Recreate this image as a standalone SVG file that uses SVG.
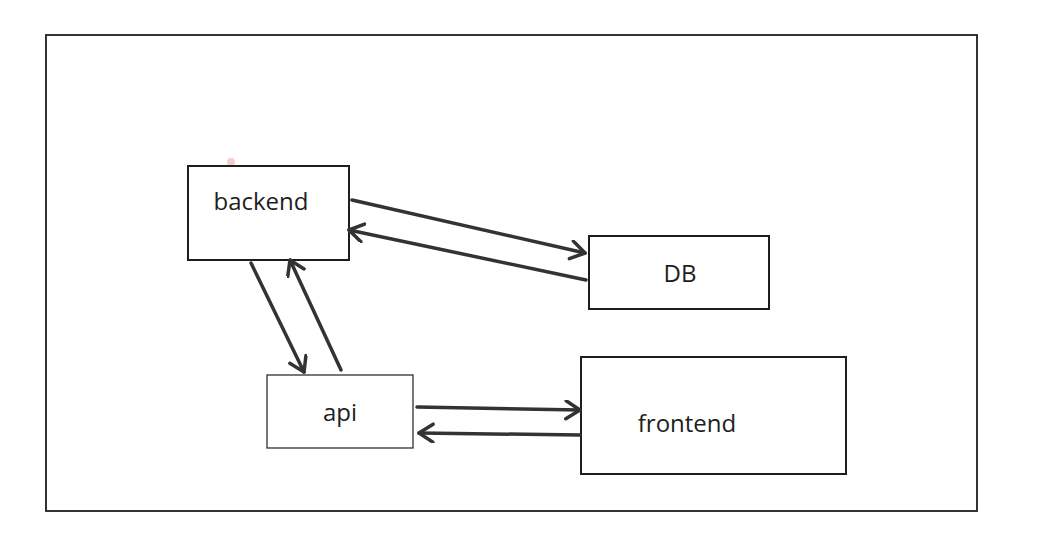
<svg xmlns="http://www.w3.org/2000/svg" width="1045" height="540" viewBox="0 0 1045 540">
<style>
.box{fill:#fff;stroke:#1e1e1e;stroke-width:2}
.lbl{font-family:"Open Sans","Liberation Sans",sans-serif;font-size:24px;fill:#1e1e1e;text-anchor:middle}
.edge{stroke:#333;stroke-width:3.5;fill:none;stroke-linecap:round;marker-end:url(#ah)}
</style>
<defs>
<marker id="ah" markerUnits="userSpaceOnUse" markerWidth="30" markerHeight="30" refX="16" refY="10" orient="auto">
<path d="M2,1 L16,10 L2,19" fill="none" stroke="#333" stroke-width="3.5" stroke-linecap="round" stroke-linejoin="round"/>
</marker>
</defs>
<rect x="0" y="0" width="1045" height="540" fill="#fff"/>
<rect id="frame" x="46" y="35" width="931" height="476" fill="none" stroke="#1e1e1e" stroke-width="1.8"/>
<circle cx="231" cy="162" r="4" fill="#f6cccc"/>
<g id="backend"><rect class="box" x="188" y="166" width="161" height="94"/><text class="lbl" x="261" y="210">backend</text></g>
<g id="db"><rect class="box" x="589" y="236" width="180" height="73" stroke-width="1.6"/><text class="lbl" x="680" y="282">DB</text></g>
<g id="api"><rect class="box" x="267" y="375" width="146" height="73" style="stroke-width:1.2"/><text class="lbl" x="340" y="421">api</text></g>
<g id="frontend"><rect class="box" x="581" y="357" width="265" height="117"/><text class="lbl" x="687" y="432">frontend</text></g>
<g id="connectors">
<path class="edge" d="M352,200 L585,253"/>
<path class="edge" d="M586,280 L349,230"/>
<path class="edge" d="M251,263 L304,372"/>
<path class="edge" d="M341,370 L290,260"/>
<path class="edge" d="M417,407 L580,410"/>
<path class="edge" d="M580,435 L419,433"/>
</g>
</svg>
